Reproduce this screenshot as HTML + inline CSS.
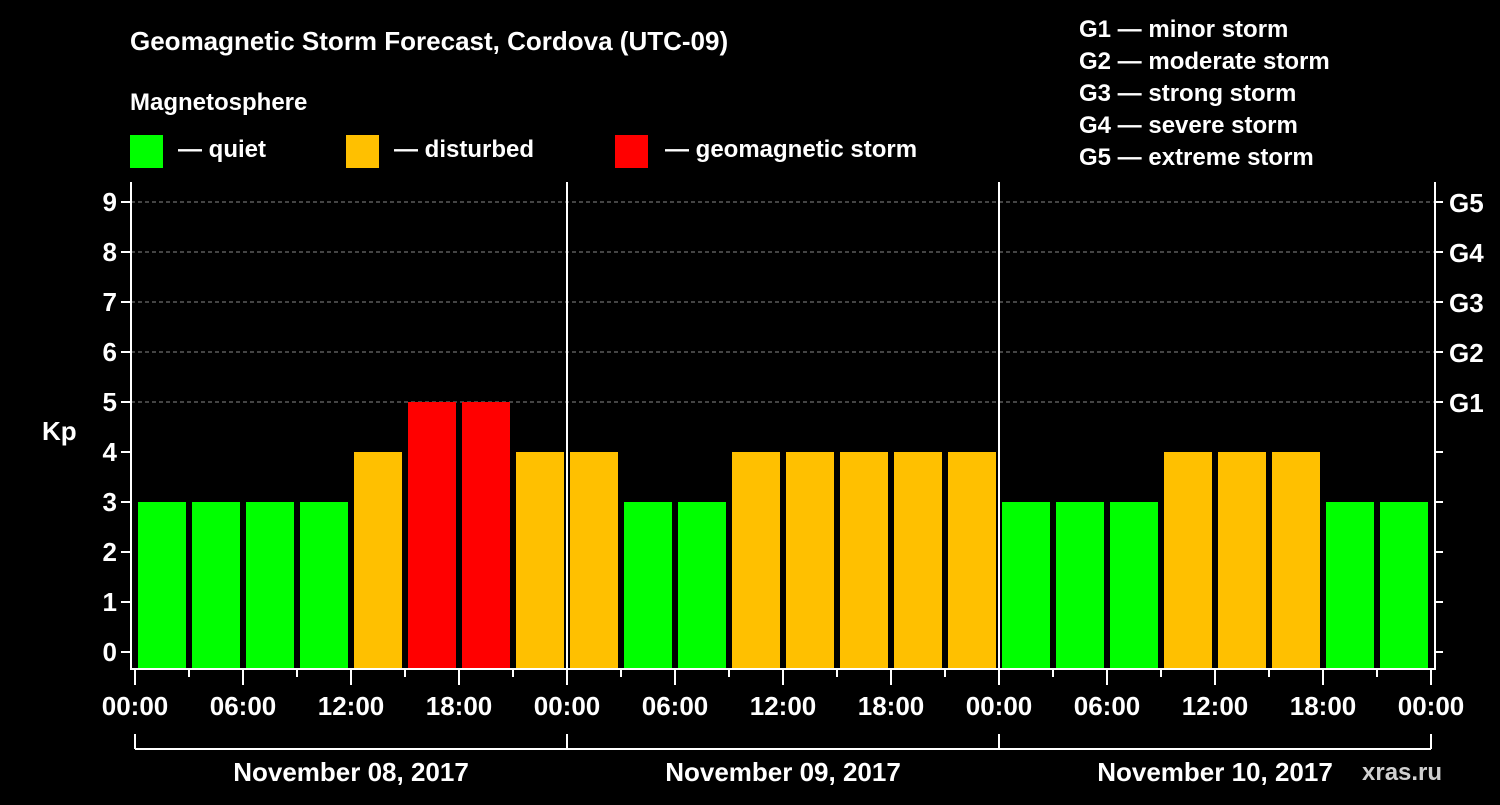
<!DOCTYPE html>
<html><head><meta charset="utf-8"><style>
body{margin:0;background:#000;width:1500px;height:800px;overflow:hidden}
text{font-family:"Liberation Sans",Arial,sans-serif;font-weight:bold;fill:#fff}
</style></head><body>
<svg id="c" width="1500" height="800">
<text x="130" y="50" font-size="26">Geomagnetic Storm Forecast, Cordova (UTC-09)</text>
<text x="130" y="110" font-size="24">Magnetosphere</text>
<rect x="130" y="135" width="33" height="33" fill="#00ff00"/>
<text x="178" y="157" font-size="24">— quiet</text>
<rect x="346" y="135" width="33" height="33" fill="#ffc000"/>
<text x="394" y="157" font-size="24">— disturbed</text>
<rect x="615" y="135" width="33" height="33" fill="#ff0000"/>
<text x="665" y="157" font-size="24">— geomagnetic storm</text>
<g font-size="24">
<text x="1079" y="37">G1 — minor storm</text>
<text x="1079" y="69">G2 — moderate storm</text>
<text x="1079" y="101">G3 — strong storm</text>
<text x="1079" y="133">G4 — severe storm</text>
<text x="1079" y="165">G5 — extreme storm</text>
</g>
<text x="42" y="440" font-size="26">Kp</text>
<text x="1362" y="780" font-size="24" fill="#ccc" style="fill:#d0d0d0">xras.ru</text>
<g id="plot"></g>
</svg>
<script>
const kpValues=[3,3,3,3,4,5,5,4, 4,3,3,4,4,4,4,4, 3,3,3,4,4,4,3,3];
const yTicks=[0,1,2,3,4,5,6,7,8,9];
const gLabels=["G1","G2","G3","G4","G5"];
const dayLabels=["November 08, 2017","November 09, 2017","November 10, 2017"];
const hourLabels=["00:00","06:00","12:00","18:00"];
const NS="http://www.w3.org/2000/svg";
const g=document.getElementById('plot');
const X0=135,DAY=432,L=131,R=1435,T=182,B=669;
const xh=h=>X0+h*DAY/24;
const y=v=>652-50*v;
function mk(t,a){const e=document.createElementNS(NS,t);for(const k in a)e.setAttribute(k,a[k]);g.appendChild(e);return e;}
// grid
for(let v=5;v<=9;v++){const e=mk('line',{x1:L,x2:R,y1:y(v),y2:y(v),stroke:'#888','stroke-dasharray':'4,3','stroke-width':1});

}
// bars
kpValues.forEach((v,i)=>{const col=v>=5?'#ff0000':v>=4?'#ffc000':'#00ff00';
const e=mk('rect',{x:xh(i*3)+3,y:y(v),width:48,height:668-y(v),fill:col});

});
// day separators
for(let d=1;d<dayLabels.length;d++){const e=mk('line',{x1:xh(24*d),x2:xh(24*d),y1:T,y2:B,stroke:'#fff','stroke-width':2});

}
// frame
const fr=mk('path',{d:`M${L},${T}V${B}H${R}V${T}`,fill:'none',stroke:'#fff','stroke-width':2});


// y ticks
yTicks.forEach(v=>{mk('line',{x1:L-10,x2:L,y1:y(v),y2:y(v),stroke:'#fff','stroke-width':2});
mk('line',{x1:R,x2:R+8,y1:y(v),y2:y(v),stroke:'#fff','stroke-width':2});
const t=mk('text',{x:L-14,y:y(v)+9,'font-size':26,'text-anchor':'end'});t.textContent=v;

});
gLabels.forEach((s,i)=>{const t=mk('text',{x:1449,y:y(5+i)+10,'font-size':26});t.textContent=s;

});
// x ticks
for(let h=0;h<=24*dayLabels.length;h+=3){const major=h%6===0;
mk('line',{x1:xh(h),x2:xh(h),y1:B,y2:major?685:677,stroke:'#fff','stroke-width':2});
if(major){const t=mk('text',{x:xh(h),y:715,'font-size':26,'text-anchor':'middle'});t.textContent=hourLabels[(h/6)%4];

}}
// date bracket
mk('line',{x1:xh(0),x2:xh(24*dayLabels.length),y1:749,y2:749,stroke:'#fff','stroke-width':2});
for(let d=0;d<=dayLabels.length;d++)mk('line',{x1:xh(24*d),x2:xh(24*d),y1:734,y2:749,stroke:'#fff','stroke-width':2});
dayLabels.forEach((s,d)=>{const t=mk('text',{x:xh(24*d+12),y:781,'font-size':26,'text-anchor':'middle'});t.textContent=s;

});
</script>
</body></html>
